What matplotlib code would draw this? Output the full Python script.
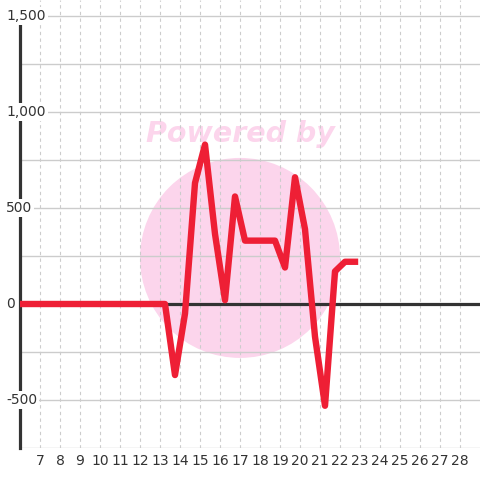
import matplotlib
matplotlib.use("Agg")
import matplotlib.pyplot as plt
from matplotlib.patches import Ellipse

# data
xs = [5.75, 6.25, 6.75, 7.25, 7.75, 8.25, 8.75, 9.25, 9.75, 10.25, 10.75,
      11.25, 11.75, 12.25, 12.75, 13.25, 13.75, 14.25, 14.75, 15.25, 15.75,
      16.25, 16.75, 17.25, 17.75, 18.25, 18.75, 19.25, 19.75, 20.25, 20.75,
      21.25, 21.75, 22.25, 22.75]
ys = [0, 0, 0, 0, 0, 0, 0, 0, 0, 0, 0,
      0, 0, 0, 0, 0, -370, -50, 630, 830, 365,
      20, 560, 330, 330, 330, 330, 190, 660, 390, -170,
      -530, 170, 220, 220]
xticks = list(range(7, 29))
yticks = [-500, 0, 500, 1000, 1500]
ytick_labels = ["-500", "0", "500", "1,000", "1,500"]
ygrid = [-750, -500, -250, 0, 250, 500, 750, 1000, 1250, 1500]

W = 480
fig = plt.figure(figsize=(4.8, 4.8), dpi=100)
ax = fig.add_axes([20 / W, 32 / W, 460 / W, 448 / W])
ax.set_xlim(6, 29)
ax.set_ylim(-750, 1500 + 16 / 0.192)

# watermark
ax.add_patch(Ellipse((17, 240), 10, 200 / 0.192, color="#fcd5ec", zorder=0, lw=0))
ax.text(17, 885, "Powered by", color="#fcd5ec", fontsize=20.5, fontweight="heavy",
        fontstyle="italic", ha="center", va="center", zorder=0)

# grid
for g in ygrid:
    ax.axhline(g, color="#cccccc", lw=1, zorder=1)
for t in xticks:
    ax.axvline(t, color="#cccccc", lw=0.8, ls=(0, (3, 3)), zorder=1)

ax.axhline(0, color="#333333", lw=2.3, zorder=2)
ax.plot(xs, ys, color="#ee1f35", lw=4.6, zorder=3)

for s in ["top", "right", "bottom"]:
    ax.spines[s].set_visible(False)
ax.spines["left"].set_color("#333333")
ax.spines["left"].set_linewidth(2.3)
ax.spines["left"].set_bounds(-750, 1458)

ax.set_xticks(xticks)
ax.set_xticklabels([str(t) for t in xticks])
ax.tick_params(axis="x", length=0, pad=4, labelsize=10, labelcolor="#333333")
ax.set_yticks([])

for v, lab in zip(yticks, ytick_labels):
    ax.text(-14 / 460, v, lab, transform=ax.get_yaxis_transform(), ha="left",
            va="center", fontsize=10, color="#333333", zorder=6, clip_on=False,
            bbox=dict(facecolor="white", edgecolor="none", pad=1.5))

fig.savefig("out.png", dpi=100)
